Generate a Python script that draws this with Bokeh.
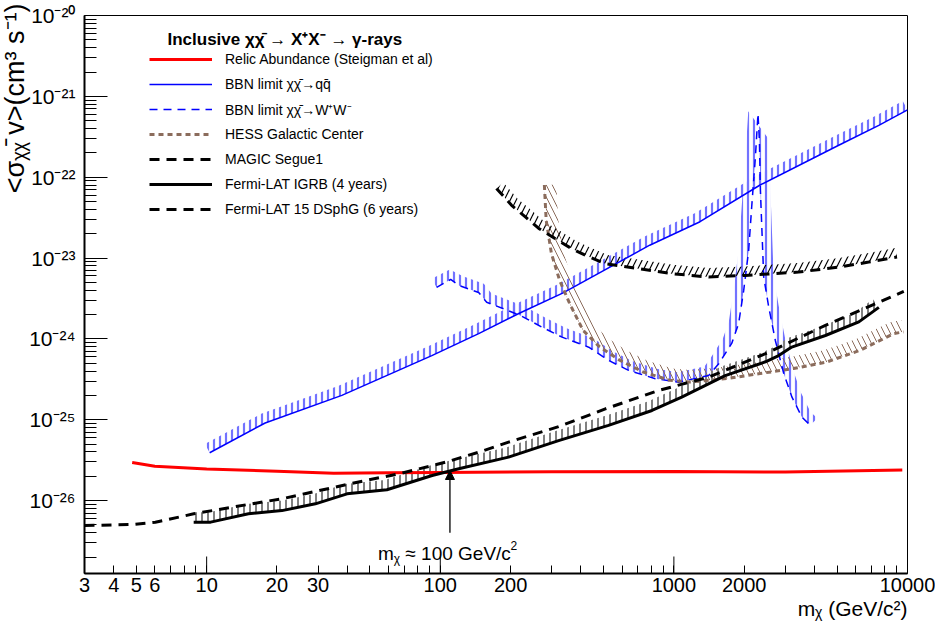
import numpy as np
from bokeh.plotting import figure
from bokeh.models import Range1d, FixedTicker, Label, Legend, LegendItem, Arrow, NormalHead, Title
from bokeh.embed import file_html
from bokeh.resources import INLINE

# ---------------- data ----------------
relic_m = [4.8, 6, 10, 20, 35, 60, 100, 300, 1000, 3000, 9500]
relic_s = [2.95e-26, 2.65e-26, 2.45e-26, 2.3e-26, 2.18e-26, 2.2e-26, 2.22e-26, 2.27e-26, 2.28e-26, 2.25e-26, 2.38e-26]

bbnqq_m = [10.3, 17.8, 37.9, 92, 146, 218, 334, 788, 1294, 2339, 5076, 7536, 10000]
bbnqq_s = [3.9e-26, 9.1e-26, 2.0e-25, 6.2e-25, 1.16e-24, 2.07e-24, 3.67e-24, 1.44e-23, 2.81e-23, 8.0e-23, 2.48e-22, 4.38e-22, 6.8e-22]

bbnww_m = [96.5, 110.8, 120, 146, 158, 220, 272, 332, 432, 526, 640, 833, 1048, 1409, 1556, 1768, 1893,
           1990, 2090, 2153, 2233, 2291, 2323, 2346, 2424, 2547, 2718, 2955, 3203, 3535, 3837]
bbnww_s = [4.33e-24, 5.43e-24, 4.58e-24, 3.75e-24, 2.84e-24, 1.95e-24, 1.40e-24, 1.05e-24, 7.88e-25, 5.4e-25,
           4.07e-25, 3.21e-25, 2.91e-25, 3.52e-25, 4.92e-25, 8.78e-25, 1.55e-24, 3.97e-24, 1.24e-23, 4.27e-23,
           1.77e-22, 6.1e-22, 2.85e-22, 6.87e-23, 5.81e-24, 2.47e-24, 9.55e-25, 3.7e-25, 1.9e-25, 1.07e-25, 8.5e-26]

hess_m = [279, 284, 299, 324, 358, 408, 481, 586, 738, 961, 1172, 1684, 2339, 3251, 4520, 6280, 8730, 9620]
hess_s = [8.0e-23, 2.95e-23, 1.14e-23, 5.32e-24, 2.73e-24, 1.28e-24, 7.94e-25, 5.43e-25, 3.89e-25, 3.07e-25,
          2.92e-25, 3.22e-25, 3.72e-25, 4.29e-25, 5.18e-25, 7.23e-25, 1.16e-24, 1.22e-24]

magic_m = [174, 202, 232, 264, 311, 366, 418, 509, 707, 981, 1409, 2023, 3424, 5075, 6820, 9020]
magic_s = [7.26e-23, 4.48e-23, 3.21e-23, 2.32e-23, 1.73e-23, 1.30e-23, 1.08e-23, 8.5e-24, 7.38e-24, 6.4e-24,
           5.81e-24, 6.09e-24, 6.7e-24, 7.71e-24, 8.9e-24, 1.03e-23]

igrb_m = [8.8, 10.4, 15.1, 21.0, 29.2, 39.9, 59.1, 92.3, 120, 196, 321, 525, 806, 1080, 1658, 2466, 2810, 3196,
          4452, 6190, 7540]
igrb_s = [5.4e-27, 5.4e-27, 6.85e-27, 7.5e-27, 9.1e-27, 1.21e-26, 1.36e-26, 2.04e-26, 2.47e-26, 3.44e-26, 5.5e-26,
          8.5e-26, 1.3e-25, 1.9e-25, 3.5e-25, 5.2e-25, 6.2e-25, 7.9e-25, 1.1e-24, 1.62e-24, 2.45e-24]

dsph_m = [3, 4.78, 6.03, 8.8, 12.8, 21, 34.5, 48, 66.7, 106, 147, 196, 321, 509, 861, 1409, 2466, 4452, 7536, 9640]
dsph_s = [4.9e-27, 5.05e-27, 5.38e-27, 6.84e-27, 8.26e-27, 1.05e-26, 1.44e-26, 1.77e-26, 2.14e-26, 2.99e-26,
          3.98e-26, 5.27e-26, 8.2e-26, 1.36e-25, 2.3e-25, 3.36e-25, 6.55e-25, 1.47e-24, 2.84e-24, 3.86e-24]

x_ticks_labelled = [3, 4, 5, 6, 10, 20, 30, 100, 200, 1000, 2000, 10000]
y_decades = [-26, -25, -24, -23, -22, -21, -20]

arrow_mass = 110
arrow_y_tail = 4.0e-27
arrow_y_tip = 2.35e-26

legend_labels = [
    "Relic Abundance (Steigman et al)",
    "BBN limit \u03c7\u03c7\u0304\u2192qq\u0304",
    "BBN limit \u03c7\u03c7\u0304\u2192W\u207aW\u207b",
    "HESS Galactic Center",
    "MAGIC Segue1",
    "Fermi-LAT IGRB (4 years)",
    "Fermi-LAT 15 DSphG (6 years)",
]
x_title = "m\u1d6a (GeV/c\u00b2)"
y_title = "<\u03c3\u1d6a\u1d6a\u0304 v>(cm\u00b3 s\u207b\u00b9)"

# ---------------- figure ----------------
XMIN, XMAX = 3, 10000
YMIN, YMAX = 1.25e-27, 1e-20
W, H = 935, 628
BL, BR, BT, BB = 84, 28, 15, 55
FONT = "Liberation Sans"

p = figure(width=W, height=H, x_axis_type="log", y_axis_type="log",
           x_range=Range1d(XMIN, XMAX), y_range=Range1d(YMIN, YMAX),
           output_backend="svg", toolbar_location=None,
           min_border_left=BL, min_border_right=BR, min_border_top=BT, min_border_bottom=BB)
p.grid.visible = False
p.outline_line_color = "black"
p.outline_line_width = 1
p.background_fill_color = "white"
p.border_fill_color = "white"

AX = (W - BL - BR) / (np.log10(XMAX) - np.log10(XMIN))   # px per decade in x
AY = (H - BT - BB) / (np.log10(YMAX) - np.log10(YMIN))   # px per decade in y

SUP = str.maketrans("0123456789-", "\u2070\u00b9\u00b2\u00b3\u2074\u2075\u2076\u2077\u2078\u2079\u207b")

# x axis
minor_x = [v * 10 ** e for e in range(0, 4) for v in range(1, 10)]
minor_x = [v for v in minor_x if XMIN <= v <= XMAX and v not in x_ticks_labelled]
xa = p.xaxis[0]
xa.ticker = FixedTicker(ticks=x_ticks_labelled, minor_ticks=minor_x)
xa.major_label_overrides = {t: str(t) for t in x_ticks_labelled}
xa.major_tick_in = 8
xa.major_tick_out = 0
xa.minor_tick_in = 8
xa.minor_tick_out = 0
xa.axis_line_width = 2
xa.major_label_text_font = FONT
xa.major_label_text_font_size = "20px"
xa.major_label_text_color = "black"
xa.major_label_standoff = 4

# y axis
ya = p.yaxis[0]
minor_y = [v * 10.0 ** e for e in range(-27, -20) for v in range(2, 10)]
minor_y = [v for v in minor_y if YMIN <= v <= YMAX]
y_ticks = [10.0 ** e for e in y_decades]
ya.ticker = FixedTicker(ticks=y_ticks, minor_ticks=minor_y)
ya.major_label_overrides = {t: "10" + str(e).translate(SUP) for t, e in zip(y_ticks, y_decades)}
ya.major_tick_in = 23
ya.major_tick_out = 0
ya.minor_tick_in = 12
ya.minor_tick_out = 0
ya.axis_line_width = 2
ya.major_label_text_font = FONT
ya.major_label_text_font_size = "21px"
ya.major_label_text_color = "black"
ya.major_label_standoff = 9

# axis titles (ROOT style: at the far ends)
p.add_layout(Title(text=y_title, align="right", text_font=FONT, text_font_size="27px",
                   text_font_style="normal", text_color="black", standoff=-6, offset=-12), "left")
p.add_layout(Title(text=x_title, align="right", text_font=FONT, text_font_size="21px",
                   text_font_style="normal", text_color="black", standoff=0), "below")

# longer decade ticks on x axis
dec_x = [10, 100, 1000]
p.segment(x0=dec_x, y0=[YMIN] * 3, x1=dec_x, y1=[YMIN * 10 ** (17 / AY)] * 3, line_color="black", line_width=1)


def band(xs, ys, w):
    """polygon of width w px on the left side of the curve (ROOT exclusion hatch)"""
    u = AX * np.log10(np.asarray(xs, float))
    v = AY * np.log10(np.asarray(ys, float))
    du = np.gradient(u)
    dv = np.gradient(v)
    n = np.hypot(du, dv)
    u2 = u - w * dv / n
    v2 = v + w * du / n
    x2 = 10 ** (u2 / AX)
    y2 = 10 ** (v2 / AY)
    return list(xs) + list(x2[::-1]), list(ys) + list(y2[::-1])


def hatch(xs, ys, w, pattern, color, weight, scale):
    bx, by = band(xs, ys, w)
    p.patch(bx, by, fill_alpha=0, line_alpha=0, hatch_pattern=pattern, hatch_color=color,
            hatch_weight=weight, hatch_scale=scale)


BLUE_H = "#7272ff"
BROWN = "#8b6c5c"
hatch(bbnqq_m, bbnqq_s, 10, "|", BLUE_H, 2.2, 6)
hatch(bbnww_m, bbnww_s, 10, "|", BLUE_H, 2.2, 6)
hatch(hess_m, hess_s, 12, "\\", BROWN, 1, 12)
hatch(magic_m, magic_s, 9, "/", "black", 1.2, 12)
hatch(igrb_m, igrb_s, 10, "|", "#808080", 2, 6)

r_relic = p.line(relic_m, relic_s, line_color="#ff0000", line_width=3)
r_qq = p.line(bbnqq_m, bbnqq_s, line_color="#0000ff", line_width=1.5)
r_ww = p.line(bbnww_m, bbnww_s, line_color="#0000ff", line_width=1.5, line_dash="8 6")
r_hess = p.line(hess_m, hess_s, line_color=BROWN, line_width=3, line_dash="5 4")
r_magic = p.line(magic_m, magic_s, line_color="black", line_width=3, line_dash="10 7")
r_igrb = p.line(igrb_m, igrb_s, line_color="black", line_width=3)
r_dsph = p.line(dsph_m, dsph_s, line_color="black", line_width=3, line_dash="10 7")

renderers = [r_relic, r_qq, r_ww, r_hess, r_magic, r_igrb, r_dsph]
legend = Legend(items=[LegendItem(label=l, renderers=[r]) for l, r in zip(legend_labels, renderers)],
                location=(65, 354), padding=0, margin=0, spacing=5,
                glyph_width=63, glyph_height=20, label_height=20, label_standoff=13,
                label_text_font=FONT, label_text_font_size="14px", label_text_color="black",
                background_fill_alpha=0, border_line_alpha=0)
p.add_layout(legend)

# arrow annotation
p.add_layout(Arrow(end=NormalHead(size=9, fill_color="black", line_color="black"),
                   x_start=arrow_mass, y_start=arrow_y_tail, x_end=arrow_mass, y_end=arrow_y_tip,
                   line_width=1.3, line_color="black"))

# ---------------- text helpers ----------------
CW = {" ": .278, "<": .584, ">": .584, "(": .333, ")": .333, "c": .5, "m": .833, "s": .5, "v": .5,
      "\u03c3": .6, "\u03c7": .55, "\u0304": 0, "\u2212": .584, "-": .333, "G": .778, "e": .556,
      "V": .667, "/": .278, "\u2248": .584}


def tw(s, size):
    return sum(CW.get(c, .556) for c in s) * size


def rich(pieces, ax, ay, dx, dy):
    pos = dx
    for t, s, sh, gap in pieces:
        pos += gap
        lab = Label(x=ax, y=ay, x_offset=pos, y_offset=dy + sh, text=t, text_font=FONT,
                    text_font_size=f"{s}px", text_baseline="alphabetic", text_align="left",
                    text_color="black")
        p.add_layout(lab)
        pos += tw(t, s)


# arrow text
rich([("m", 19, 0, 0), ("\u03c7", 12, -5, 0), ("\u2248 100 GeV/c", 19, 0, 5), ("2", 12, 8, -1)],
     arrow_mass, YMIN, -72, 20)

# legend header
p.add_layout(Label(x=XMIN, y=YMAX, x_offset=83, y_offset=-24,
                   text="Inclusive \u03c7\u03c7\u0304 \u2192 X\u207aX\u207b \u2192 \u03b3-rays",
                   text_font=FONT, text_font_size="17px", text_font_style="bold",
                   text_baseline="alphabetic", text_color="black"))

open("out.html", "w").write(file_html(p, INLINE))
